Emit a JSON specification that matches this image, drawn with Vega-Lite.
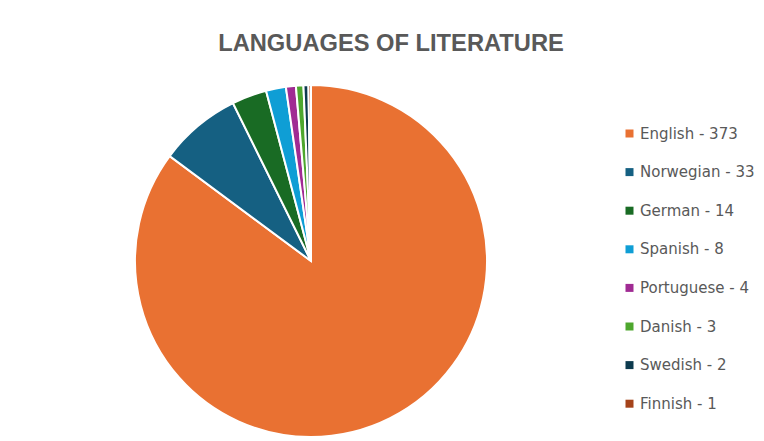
{
  "$schema": "https://vega.github.io/schema/vega-lite/v6.json",
  "width": 622,
  "height": 352,
  "autosize": {"type": "none"},
  "padding": {"left": 0, "top": 85, "right": 142, "bottom": 4},
  "background": "white",
  "config": {"view": {"stroke": null}},
  "title": {
    "text": "LANGUAGES OF LITERATURE",
    "font": "Liberation Sans",
    "fontSize": 23.7,
    "fontWeight": "bold",
    "color": "#595959",
    "anchor": "middle",
    "dx": 80,
    "offset": 25
  },
  "data": {
    "values": [
      {"language": "English - 373", "count": 373, "rank": 1},
      {"language": "Norwegian - 33", "count": 33, "rank": 2},
      {"language": "German - 14", "count": 14, "rank": 3},
      {"language": "Spanish - 8", "count": 8, "rank": 4},
      {"language": "Portuguese - 4", "count": 4, "rank": 5},
      {"language": "Danish - 3", "count": 3, "rank": 6},
      {"language": "Swedish - 2", "count": 2, "rank": 7},
      {"language": "Finnish - 1", "count": 1, "rank": 8}
    ]
  },
  "mark": {"type": "arc", "stroke": "white", "strokeWidth": 2},
  "encoding": {
    "theta": {"field": "count", "type": "quantitative", "stack": true},
    "order": {"field": "rank", "type": "quantitative"},
    "color": {
      "field": "language",
      "type": "nominal",
      "scale": {
        "domain": ["English - 373", "Norwegian - 33", "German - 14", "Spanish - 8", "Portuguese - 4", "Danish - 3", "Swedish - 2", "Finnish - 1"],
        "range": ["#E97132", "#156082", "#196B24", "#0F9ED5", "#A02B93", "#4EA72E", "#0D3A4E", "#A5431A"]
      },
      "legend": {
        "title": null,
        "orient": "none",
        "legendX": 622,
        "legendY": 41,
        "symbolType": "square",
        "symbolSize": 64,
        "symbolStrokeWidth": 0,
        "labelFont": "DejaVu Sans",
        "labelFontSize": 15,
        "labelColor": "#595959",
        "labelOffset": 3,
        "rowPadding": 22.6
      }
    }
  }
}
